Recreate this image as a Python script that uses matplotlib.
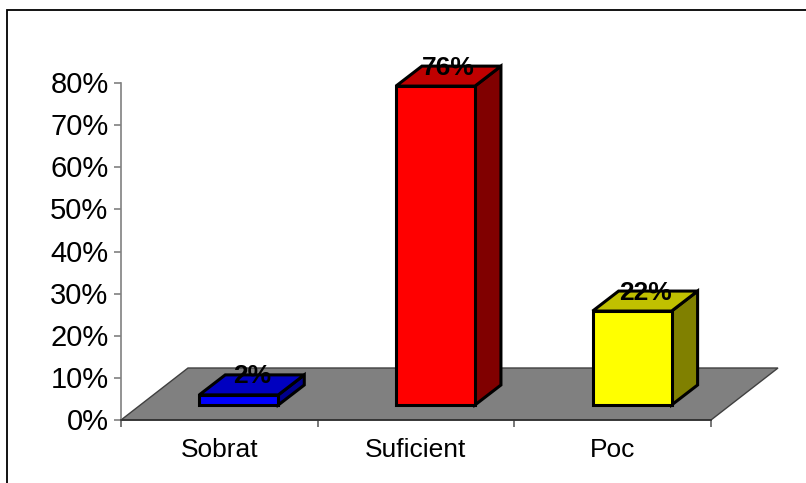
import matplotlib
matplotlib.use("Agg")
import matplotlib.pyplot as plt
from matplotlib.patches import Polygon, Rectangle
from matplotlib.transforms import ScaledTranslation

plt.rcParams['font.family'] = ['Liberation Sans', 'DejaVu Sans']

categories = ['Sobrat', 'Suficient', 'Poc']
values = [2.4, 75.7, 22.3]
labels = ['2%', '76%', '22%']
front_colors = ['#0000FF', '#FF0000', '#FFFF00']
top_colors = ['#0000C0', '#C00000', '#C0C000']
side_colors = ['#00008B', '#800000', '#808000']
yticks = [0, 10, 20, 30, 40, 50, 60, 70, 80]

W, H = 806, 483
L, R, B, T = 121, 711, 420, 83
fig = plt.figure(figsize=(W / 100, H / 100), dpi=100, facecolor='white')
fig.add_artist(Rectangle((7.5 / W, -0.01), 2, 1.01 - 10 / H, transform=fig.transFigure,
                         fill=False, ec='black', lw=1.3))
ax = fig.add_axes([L / W, 1 - B / H, (R - L) / W, (B - T) / H])
ax.set_xlim(0, 3)
ax.set_ylim(0, 80)
ax.patch.set_visible(False)

px = 3 / (R - L)          # data units per pixel, x
py = 80 / (B - T)         # data units per pixel, y
floor_dx, floor_dy = 67 * px, 52 * py
bar_dx, bar_dy = 26 * px, 20 * py
base = 15 * py
bar_w = 79 * px

for s in ['top', 'right']:
    ax.spines[s].set_visible(False)
ax.spines['left'].set_color('#808080')
ax.spines['left'].set_linewidth(1.2)
ax.spines['bottom'].set_color('#303030')
ax.spines['bottom'].set_linewidth(1.2)

ax.add_patch(Polygon([(0, 0), (3, 0), (3 + floor_dx, floor_dy), (floor_dx, floor_dy)],
                     closed=True, fc='#808080', ec='#404040', lw=1, clip_on=False, zorder=1))

for i, v in enumerate(values):
    x0 = i + 0.398
    x1 = x0 + bar_w
    y0, y1 = base, base + v
    kw = dict(closed=True, ec='black', lw=2.2, joinstyle='miter', clip_on=False, zorder=3)
    ax.add_patch(Polygon([(x1, y0), (x1 + bar_dx, y0 + bar_dy), (x1 + bar_dx, y1 + bar_dy), (x1, y1)],
                         fc=side_colors[i], **kw))
    ax.add_patch(Polygon([(x0, y1), (x1, y1), (x1 + bar_dx, y1 + bar_dy), (x0 + bar_dx, y1 + bar_dy)],
                         fc=top_colors[i], **kw))
    ax.add_patch(Rectangle((x0, y0), bar_w, v, fc=front_colors[i], ec='black', lw=2.2,
                           clip_on=False, zorder=4))
    ax.text(x0 + bar_w / 2 + bar_dx * 0.5, y1 + bar_dy * 0.92, labels[i],
            ha='center', va='center', fontsize=19, fontweight='bold', color='black',
            clip_on=False, zorder=5)

ax.set_yticks(yticks)
ax.set_yticklabels([f'{t}%' for t in yticks], fontsize=21)
ax.set_xticks([0, 1, 2, 3])
ax.set_xticklabels([])
ax.tick_params(axis='y', length=5, width=1.2, color='#808080', pad=4)
ax.tick_params(axis='x', length=5, width=1.2, color='#606060')
nudge = ScaledTranslation(0, 1 / 100, fig.dpi_scale_trans)
for lab in ax.get_yticklabels():
    lab.set_transform(lab.get_transform() + nudge)
for i, c in enumerate(categories):
    ax.annotate(c, (i + 0.5, 0), xytext=(0, -30), textcoords='offset pixels',
                ha='center', va='center', fontsize=19, annotation_clip=False)

fig.savefig('out.png', dpi=100)
